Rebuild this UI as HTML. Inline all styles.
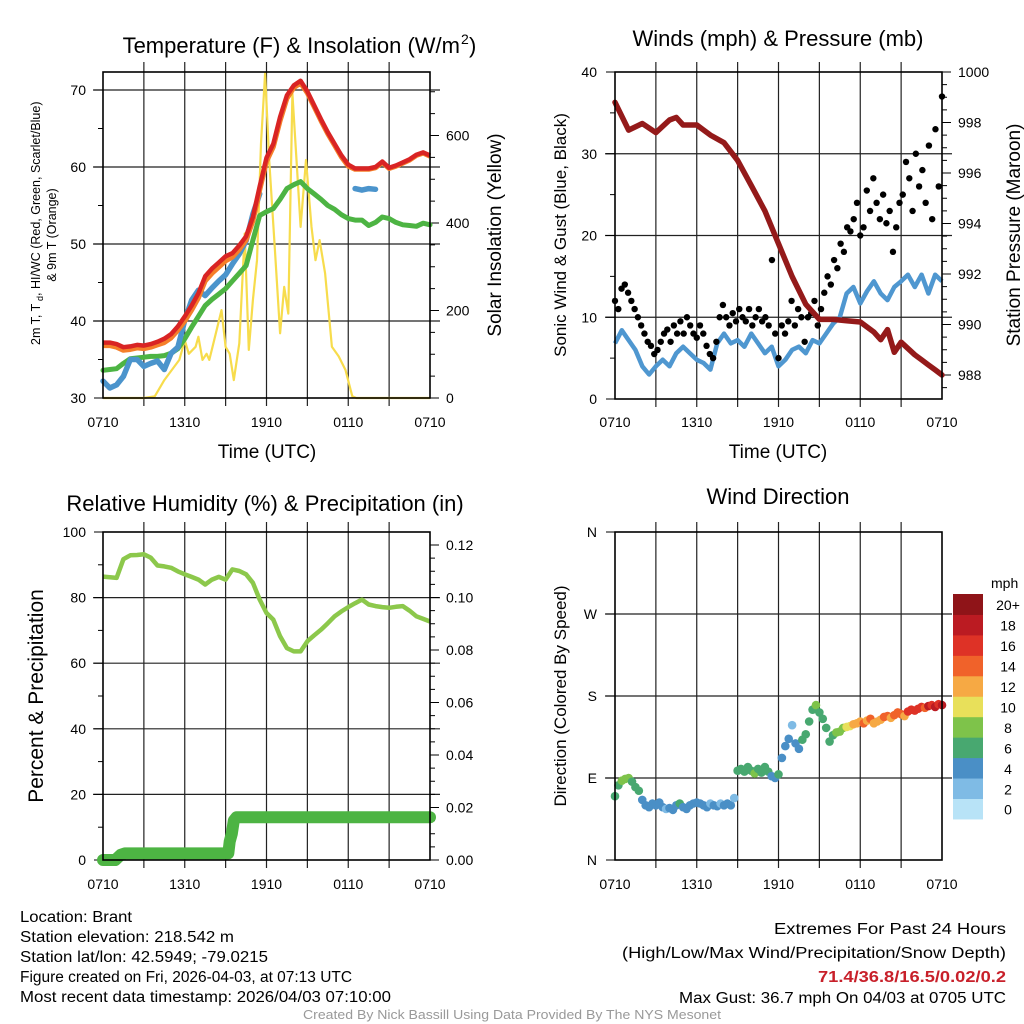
<!DOCTYPE html>
<html><head><meta charset="utf-8"><style>
html,body{margin:0;padding:0;background:#fff;overflow:hidden;}
svg{display:block;font-family:"Liberation Sans",sans-serif;}
</style></head><body>
<svg id="fig" width="1024" height="1024" viewBox="0 0 1024 1024" xmlns="http://www.w3.org/2000/svg"></svg>
<script>
// ---------- DATA ----------
const halfHours = [0,0.5,1,1.5,2,2.5,3,3.5,4,4.5,5,5.5,6,6.5,7,7.5,8,8.5,9,9.5,10,10.5,11,11.5,12,12.5,13,13.5,14,14.5,15,15.5,16,16.5,17,17.5,18,18.5,19,19.5,20,20.5,21,21.5,22,22.5,23,23.5,24];
const tempRed = [37.2,37.2,37.0,36.6,36.7,36.9,36.8,37.0,37.3,37.7,38.3,39.3,40.6,42.0,43.6,45.8,46.8,47.6,48.4,48.8,49.8,51.0,53.5,57.5,61.2,63.0,66.5,69.3,70.6,71.2,69.8,68.0,66.2,64.5,63.0,61.5,60.3,59.8,59.8,59.8,60.0,60.7,59.9,60.2,60.6,61.0,61.6,61.9,61.5];
const tempOrange = [36.8,36.8,36.6,36.2,36.3,36.5,36.4,36.6,36.9,37.2,37.8,38.8,40.0,41.4,43.0,45.2,46.2,47.0,47.8,48.3,49.3,50.5,53.0,57.0,60.7,62.6,66.0,68.9,70.3,70.9,69.6,67.8,66.0,64.3,62.8,61.3,60.1,59.7,59.7,59.7,59.9,60.6,59.8,60.1,60.5,60.9,61.5,61.8,61.4];
const dewGreen = [33.6,33.7,33.8,34.5,35.1,35.2,35.3,35.4,35.4,35.5,35.8,36.4,37.7,39.2,40.6,42.0,42.8,43.5,44.2,45.2,46.2,47.2,50.5,53.7,54.2,54.6,55.8,57.2,57.7,58.1,57.2,56.5,55.8,55.0,54.5,53.8,53.3,53.1,53.1,52.4,52.8,53.5,53.3,52.8,52.5,52.4,52.3,52.7,52.5];
const chillBlue = [32.2,31.3,31.7,32.8,35.0,35.0,34.1,34.5,34.8,33.7,35.8,36.6,40.1,42.7,44.0,43.3,44.3,45.2,46.0,47.4,48.7,50.4,53.9,56.5,null,null,null,null,null,null,null,null,null,null,null,null,null,57.2,57.0,57.2,57.1,null,null,57.3,null,null,null,null,null];
const solarTimes = [0,3.0,3.8,4.5,5.6,6.0,6.3,6.8,7.0,7.3,7.6,7.8,8.1,8.7,9.0,9.3,9.6,10.0,10.4,10.7,11.0,11.3,11.6,11.9,12.2,12.6,13.0,13.3,13.6,13.9,14.2,14.5,14.9,15.3,15.6,15.9,16.3,16.8,17.3,17.8,18.3,18.6,24];
const solarVals = [0,0,4,41,87,132,101,117,140,87,101,87,125,201,117,101,41,125,376,110,224,315,582,742,544,346,148,254,193,696,544,391,544,391,315,361,285,117,95,64,4,0,0];

const windBlue = [6.8,8.4,7.2,6.0,4.0,3.0,4.0,4.8,4.0,5.6,6.4,5.6,4.8,4.4,3.6,6.8,8.0,6.8,7.2,6.4,8.0,6.8,5.6,6.4,4.0,4.8,6.0,6.4,5.6,7.2,6.8,8.0,9.2,10.0,12.9,13.7,11.7,13.2,14.4,12.9,12.1,13.7,14.4,15.2,13.7,15.2,12.9,15.2,14.4];
const pressTimes = [0,1,2,3,4,4.5,5,6,7,8,9,10,11,12,13,14,15,16,17,18,19,19.5,20,20.5,21,22,22.5,23,23.5,24];
const pressVals = [998.8,997.7,997.96,997.6,998.1,998.2,997.9,997.9,997.5,997.2,996.5,995.5,994.5,993.2,991.9,990.8,990.2,990.2,990.15,990.1,989.7,989.4,989.8,988.9,989.3,988.8,988.6,988.4,988.2,988.0];
const gustVals = [12,11,13.5,14,13,12,11,10, 9,8,7,6.5,5.5,6,7,8,8.5,7,9,8, 9.5,8,10,9,8,7.5,9,8,6.5,5.5,5,7, 10,11.5,10,9,10.5,9.5,11,10,9.5,11,9,10, 11,9.5,10,9,17,8,5,9, 8,9.5,12,9,11,10,7,10,10.5,12,9,11, 13,15,14,17,16,19,18,21,20.5,22,24,20, 21,25.5,23,27,24,22,25,21.5,23,18,21,24, 25,29,27,23,30,26,28,24,31,22,33,26,37];
const gustTimes = gustVals.map((_,i)=>i*24/(gustVals.length-1));

const quarterHours = Array.from({length:97},(_,i)=>i*0.25);
const dirDeg = [70,82,87,89,90,86,80,76, 66,60,58,62,60,63,58,56, 57,55,60,62,58,56,60,62, 63,62,60,58,62,60,59,62, 60,62,60,68,98,100,97,102, 98,95,100,96,102,97,92,90, 94,112,125,133,148,128,122,132, 138,152,165,170,162,155,145,130, 137,140,141,145,146,147,149,150, 152,150,153,155,150,152,154,157, 158,156,159,162,160,158,163,165, 164,166,168,167,169,170,168,171, 170];
const dirSpeed = [6,7,8,8,8,7,6,6, 5,4,4,4,4,4,4,3, 4,4,4,6,4,4,4,4, 5,4,4,4,3,4,4,2, 4,4,5,2,6,6,7,6, 6,8,6,6,6,7,5,4, 6,4,4,4,3,4,4,6, 6,6,7,8,6,6,6,7, 7,8,8,9,10,11,12,12, 13,14,13,14,12,13,13,14, 14,13,14,15,14,13,16,17, 16,17,16,15,18,17,18,17, 18];

const rhVals = [86.4,86.2,86.0,91.7,92.9,93.0,93.2,92.2,89.8,89.5,89.1,88.0,87.1,86.3,85.5,84.0,85.5,86.3,85.5,88.6,88.1,87.1,84.5,79.4,75.3,73.3,68.2,64.6,63.6,63.6,66.7,68.5,70.2,72.2,74.3,75.8,77.1,78.3,79.4,77.9,77.4,77.1,76.9,77.2,77.4,76.0,74.3,73.5,72.7];
const precipTimes = [0,0.9,1.3,1.6,9.2,9.3,9.45,9.6,9.8,24];
const precipVals = [0,0,0.002,0.0025,0.0025,0.007,0.010,0.015,0.0163,0.0163];

const xTickLabels = ["0710","1310","1910","0110","0710"];
const speedColors = ["#b8e3f7","#7fbbe5","#4a8fc6","#48a870","#7ec34a","#e8e05a","#f6a944","#f0622a","#de3226","#bb1b22","#8f1418"];
const speedLabels = ["0","2","4","6","8","10","12","14","16","18","20+"];

// ---------- DRAW ----------
const NS="http://www.w3.org/2000/svg";
const svg=document.getElementById('fig');
function mk(tag,attrs,parent){const e=document.createElementNS(NS,tag);for(const k in attrs)e.setAttribute(k,attrs[k]);(parent||svg).appendChild(e);return e;}
function txt(s,attrs,parent){const e=mk('text',attrs,parent);e.textContent=s;return e;}

function frame(x0,x1,y0,y1,name){
  const g=mk('g',{});
  
  
  for(let i=1;i<8;i++){const x=x0+(x1-x0)*i/8;mk('line',{x1:x,x2:x,y1:y0-10,y2:y1+8,stroke:'#222','stroke-width':1.2},g);}
  return g;
}
function hgrid(g,x0,x1,y){mk('line',{x1:x0-10,x2:x1+10,y1:y,y2:y,stroke:'#222','stroke-width':1.2},g);}
function box(g,x0,x1,y0,y1){mk('rect',{x:x0,y:y0,width:x1-x0,height:y1-y0,fill:'none',stroke:'#000','stroke-width':1.6},g);}
function tickL(g,x,y,len){mk('line',{x1:x-len,x2:x,y1:y,y2:y,stroke:'#000','stroke-width':1},g);}
function tickR(g,x,y,len){mk('line',{x1:x,x2:x+len,y1:y,y2:y,stroke:'#000','stroke-width':1},g);}
function pathFrom(xs,ys,fx,fy){let d='',pen=false;for(let i=0;i<xs.length;i++){if(ys[i]===null){pen=false;continue;}d+=(pen?'L':'M')+fx(xs[i]).toFixed(1)+','+fy(ys[i]).toFixed(1);pen=true;}return d;}
function xLabels(g,x0,x1,y){xTickLabels.forEach((s,i)=>{txt(s,{x:x0+(x1-x0)*i/4,y:y,'font-size':14,'text-anchor':'middle',fill:'#000'},g);});}

// ===== Panel 1: temperature =====
const P1={x0:103,x1:430,y0:72,y1:398};
const x1s=t=>P1.x0+t*(P1.x1-P1.x0)/24;
const yT=v=>398-(v-30)*7.7;
const yS=v=>398-v*87.5/200;
const g1=frame(P1.x0,P1.x1,P1.y0,P1.y1,'temperature-panel');
[40,50,60,70].forEach(v=>hgrid(g1,P1.x0,P1.x1,yT(v)));
for(let v=30;v<=72;v+=5){tickL(g1,P1.x0,yT(v),v%10===0?9:5);}
for(let v=30;v<=70;v+=10)txt(String(v),{x:86,y:yT(v)+5,'font-size':14,'text-anchor':'end'},g1);
for(let v=0;v<=740;v+=50){tickR(g1,P1.x1,yS(v),v%200===0?9:5);}
for(let v=0;v<=600;v+=200)txt(String(v),{x:446,y:yS(v)+5,'font-size':14,'text-anchor':'start'},g1);
const sl=mk('path',{d:pathFrom(solarTimes,solarVals,x1s,yS),fill:'none',stroke:'#f7dc4c','stroke-width':2.2,'stroke-linejoin':'round'},g1);


const gl=mk('path',{d:pathFrom(halfHours,dewGreen,x1s,yT),fill:'none',stroke:'#4db443','stroke-width':5,'stroke-linejoin':'round','stroke-linecap':'round'},g1);


const bl=mk('path',{d:pathFrom(halfHours,chillBlue,x1s,yT),fill:'none',stroke:'#4b94cc','stroke-width':5.5,'stroke-linejoin':'round','stroke-linecap':'round'},g1);


const ol=mk('path',{d:pathFrom(halfHours,tempOrange,x1s,yT),fill:'none',stroke:'#f57f2a','stroke-width':5,'stroke-linejoin':'round'},g1);


const rl=mk('path',{d:pathFrom(halfHours,tempRed,x1s,yT),fill:'none',stroke:'#d92424','stroke-width':4.5,'stroke-linejoin':'round'},g1);


box(g1,P1.x0,P1.x1,P1.y0,P1.y1);
xLabels(g1,P1.x0,P1.x1,427);
const t1=txt('Temperature (F) & Insolation (W/m',{x:460,y:53,'font-size':22,'text-anchor':'end'});


const t1s=txt('2',{x:461,y:44,'font-size':14});


const t1p=txt(')',{x:469,y:53,'font-size':22});


const xa1=txt('Time (UTC)',{x:267,y:458,'font-size':19,'text-anchor':'middle'});


const ya1=txt('2m T, T',{transform:'translate(40,345) rotate(-90)','font-size':12.5,'text-anchor':'start'});


const ya1d=txt('d',{transform:'translate(43,301) rotate(-90)','font-size':9,'text-anchor':'start'});


const ya1c=txt(', HI/WC (Red, Green, Scarlet/Blue)',{transform:'translate(40,296) rotate(-90)','font-size':12.5,'text-anchor':'start'});


const ya1b=txt('& 9m T (Orange)',{transform:'translate(56,235) rotate(-90)','font-size':12.5,'text-anchor':'middle'});


const yr1=txt('Solar Insolation (Yellow)',{transform:'translate(501,235) rotate(-90)','font-size':19,'text-anchor':'middle'});



// ===== Panel 2: winds & pressure =====
const P2={x0:615,x1:942,y0:72,y1:399};
const x2s=t=>P2.x0+t*(P2.x1-P2.x0)/24;
const yW=v=>399-v*8.175;
const yP=v=>72+(1000-v)*25.25;
const g2=frame(P2.x0,P2.x1,P2.y0,P2.y1,'winds-panel');
[10,20,30].forEach(v=>hgrid(g2,P2.x0,P2.x1,yW(v)));
for(let v=0;v<=40;v+=5)tickL(g2,P2.x0,yW(v),v%10===0?9:5);
for(let v=0;v<=40;v+=10)txt(String(v),{x:597,y:yW(v)+5,'font-size':14,'text-anchor':'end'},g2);
for(let v=987.5;v<=1000;v+=0.5)tickR(g2,P2.x1,yP(v),v%2===0?9:5);
for(let v=988;v<=1000;v+=2)txt(String(v),{x:958,y:yP(v)+5,'font-size':14,'text-anchor':'start'},g2);
const wl=mk('path',{d:pathFrom(halfHours,windBlue,x2s,yW),fill:'none',stroke:'#4f97d0','stroke-width':4.5,'stroke-linejoin':'round'},g2);


gustVals.forEach((v,i)=>{
  const c=mk('circle',{cx:x2s(gustTimes[i]),cy:yW(v),r:3.2,fill:'#000'},g2);
  
  
});
const pl=mk('path',{d:pathFrom(pressTimes,pressVals,x2s,yP),fill:'none',stroke:'#941a1a','stroke-width':5.5,'stroke-linejoin':'round','stroke-linecap':'round'},g2);


box(g2,P2.x0,P2.x1,P2.y0,P2.y1);
xLabels(g2,P2.x0,P2.x1,427);
const t2=txt('Winds (mph) & Pressure (mb)',{x:778,y:46,'font-size':22,'text-anchor':'middle'});


const xa2=txt('Time (UTC)',{x:778,y:458,'font-size':19,'text-anchor':'middle'});


const ya2=txt('Sonic Wind & Gust (Blue, Black)',{transform:'translate(566,235) rotate(-90)','font-size':17,'text-anchor':'middle'});


const yr2=txt('Station Pressure (Maroon)',{transform:'translate(1020,235) rotate(-90)','font-size':19,'text-anchor':'middle'});



// ===== Panel 3: RH & precip =====
const P3={x0:103,x1:430,y0:532,y1:860};
const yRH=v=>860-v*3.28;
const yPr=v=>860-v*2625;
const g3=frame(P3.x0,P3.x1,P3.y0,P3.y1,'humidity-panel');
[20,40,60,80].forEach(v=>hgrid(g3,P3.x0,P3.x1,yRH(v)));
for(let v=0;v<=100;v+=10)tickL(g3,P3.x0,yRH(v),v%20===0?9:5);
for(let v=0;v<=100;v+=20)txt(String(v),{x:86,y:yRH(v)+5,'font-size':14,'text-anchor':'end'},g3);
for(let i=0;i<=24;i++){const v=i*0.005;tickR(g3,P3.x1,yPr(v),i%4===0?9:5);}
for(let i=0;i<=6;i++)txt((i*0.02).toFixed(2),{x:446,y:yPr(i*0.02)+5,'font-size':14,'text-anchor':'start'},g3);
const rhl=mk('path',{d:pathFrom(halfHours,rhVals,x1s,yRH),fill:'none',stroke:'#8cc84b','stroke-width':4.5,'stroke-linejoin':'round'},g3);


const prl=mk('path',{d:pathFrom(precipTimes,precipVals,x1s,yPr),fill:'none',stroke:'#4db443','stroke-width':12,'stroke-linejoin':'round','stroke-linecap':'round'},g3);


box(g3,P3.x0,P3.x1,P3.y0,P3.y1);
xLabels(g3,P3.x0,P3.x1,889);
const t3=txt('Relative Humidity (%) & Precipitation (in)',{x:265,y:511,'font-size':22,'text-anchor':'middle'});


const ya3=txt('Percent & Precipitation',{transform:'translate(43,696) rotate(-90)','font-size':21,'text-anchor':'middle'});



// ===== Panel 4: wind direction =====
const P4={x0:615,x1:942,y0:532,y1:860};
const yD=v=>860-v*328/360;
const g4=frame(P4.x0,P4.x1,P4.y0,P4.y1,'wind-direction-panel');
[90,180,270].forEach(v=>hgrid(g4,P4.x0,P4.x1,yD(v)));
["N","E","S","W","N"].forEach((s,i)=>{tickL(g4,P4.x0,yD(i*90),9);txt(s,{x:597,y:yD(i*90)+5,'font-size':14,'text-anchor':'end'},g4);});
dirDeg.forEach((d,i)=>{
  const ci=Math.min(Math.floor(dirSpeed[i]/2),10);
  const c=mk('circle',{cx:x2s(quarterHours[i]),cy:yD(d),r:4.3,fill:speedColors[ci]},g4);
  
  
});
box(g4,P4.x0,P4.x1,P4.y0,P4.y1);
xLabels(g4,P4.x0,P4.x1,889);
const t4=txt('Wind Direction',{x:778,y:504,'font-size':22,'text-anchor':'middle'});


const ya4=txt('Direction (Colored By Speed)',{transform:'translate(566,696) rotate(-90)','font-size':17,'text-anchor':'middle'});


// colorbar
const cb=mk('g',{});


const cbTop=594,cbH=20.45;
speedColors.forEach((c,i)=>{
  const y=cbTop+(10-i)*cbH;
  const r=mk('rect',{x:953,y:y,width:30,height:cbH+0.5,fill:c},cb);
  
  
  txt(speedLabels[i],{x:1008,y:y+cbH/2+6,'font-size':14,'text-anchor':'middle'},cb);
});
txt('mph',{x:991,y:588,'font-size':14},cb);

// ===== footer text =====
const left=["Location: Brant","Station elevation: 218.542 m","Station lat/lon: 42.5949; -79.0215","Figure created on Fri, 2026-04-03, at 07:13 UTC","Most recent data timestamp: 2026/04/03 07:10:00"];
const leftW=[112,214,248,332,371];
left.forEach((s,i)=>{
  const e=txt(s,{x:20,y:922+i*20,'font-size':15.5,textLength:leftW[i],lengthAdjust:'spacingAndGlyphs'});
  
  
});
const r1=txt('Extremes For Past 24 Hours',{x:1006,y:934,'font-size':15.5,'text-anchor':'end',textLength:232,lengthAdjust:'spacingAndGlyphs'});


const r2=txt('(High/Low/Max Wind/Precipitation/Snow Depth)',{x:1006,y:958,'font-size':15.5,'text-anchor':'end',textLength:384,lengthAdjust:'spacingAndGlyphs'});


const r3=txt('71.4/36.8/16.5/0.02/0.2',{x:1006,y:982,'font-size':15.5,'font-weight':'bold',fill:'#c8202a','text-anchor':'end',textLength:188,lengthAdjust:'spacingAndGlyphs'});


const r4=txt('Max Gust: 36.7 mph On 04/03 at 0705 UTC',{x:1006,y:1003,'font-size':15.5,'text-anchor':'end',textLength:327,lengthAdjust:'spacingAndGlyphs'});


const cr=txt('Created By Nick Bassill Using Data Provided By The NYS Mesonet',{x:512,y:1019,'font-size':12.5,fill:'#999','text-anchor':'middle',textLength:418,lengthAdjust:'spacingAndGlyphs'});


</script>
</body></html>
